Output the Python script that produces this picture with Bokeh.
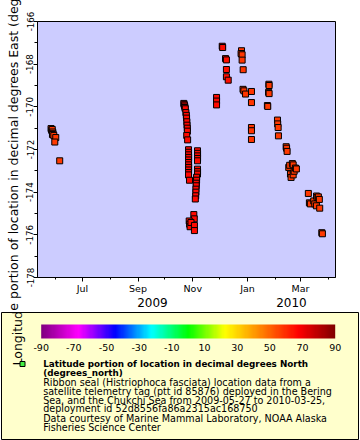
import math
import datetime as dt
from bokeh.plotting import figure
from bokeh.layouts import column
from bokeh.models import (ColumnDataSource, Range1d, FixedTicker, LinearAxis,
                          LinearColorMapper, ColorBar)
from bokeh.core.properties import value
from bokeh.transform import transform
from bokeh.embed import file_html
from bokeh.resources import INLINE

# ---------------- data ----------------
times = [
    "2009-05-27 00", "2009-05-27 16", "2009-05-28 08", "2009-05-28 20", "2009-05-29 06",
    "2009-05-28 14", "2009-05-30 02", "2009-06-01 06", "2009-05-31 04", "2009-06-05 16",
    "2009-10-22 00", "2009-10-22 12", "2009-10-22 22", "2009-10-23 06", "2009-10-23 16",
    "2009-10-24 08", "2009-10-24 20", "2009-10-25 02", "2009-10-25 10", "2009-10-25 14",
    "2009-10-25 22", "2009-10-26 00", "2009-10-25 06", "2009-10-26 06",
    "2009-10-27 06", "2009-10-27 08", "2009-10-27 06", "2009-10-27 10", "2009-10-27 06",
    "2009-10-27 08", "2009-10-27 06", "2009-10-27 10", "2009-10-27 06", "2009-10-27 08",
    "2009-10-27 06", "2009-10-28 08",
    "2009-11-06 06", "2009-11-06 08", "2009-11-06 06", "2009-11-06 08", "2009-11-06 06",
    "2009-11-06 06", "2009-11-06 08", "2009-11-06 06", "2009-11-05 06", "2009-11-05 06",
    "2009-11-04 22", "2009-11-04 20", "2009-11-04 12", "2009-11-04 12", "2009-11-04 06",
    "2009-11-03 20",
    "2009-11-02 04", "2009-11-02 16", "2009-10-28 00", "2009-10-28 12", "2009-10-29 00",
    "2009-10-30 00", "2009-11-02 20", "2009-11-02 20",
    "2009-11-27 12", "2009-11-27 12", "2009-11-27 12",
    "2009-12-03 20", "2009-12-04 08", "2009-12-07 12", "2009-12-08 12", "2009-12-08 12",
    "2009-12-08 12", "2009-12-10 12",
    "2009-12-25 08", "2009-12-24 20", "2009-12-26 00", "2009-12-26 00", "2009-12-27 04",
    "2009-12-27 00", "2009-12-28 00", "2009-12-29 20",
    "2010-01-05 10", "2010-01-05 10", "2010-01-05 10", "2010-01-05 10", "2010-01-05 10",
    "2010-01-24 20", "2010-01-25 02", "2010-01-24 12", "2010-01-25 02", "2010-01-23 04",
    "2010-01-23 14",
    "2010-02-03 10", "2010-02-03 16", "2010-02-04 04", "2010-02-04 12",
    "2010-02-13 02", "2010-02-13 14", "2010-02-14 04",
    "2010-02-16 00", "2010-02-17 00", "2010-02-17 22", "2010-02-18 14", "2010-02-20 00",
    "2010-02-20 22", "2010-02-20 22", "2010-02-22 00", "2010-02-23 10", "2010-02-24 12",
    "2010-03-09 20", "2010-03-11 00", "2010-03-12 02", "2010-03-15 20", "2010-03-17 00",
    "2010-03-18 20", "2010-03-19 00", "2010-03-19 14", "2010-03-21 00", "2010-03-22 02",
    "2010-03-22 12", "2010-03-24 20", "2010-03-25 12",
]
lons = [
    -171.02, -171.10, -171.06, -171.18, -171.26,
    -171.30, -171.34, -171.44, -171.65, -172.53,
    -169.84, -169.90, -169.96, -170.03, -170.09,
    -170.27, -170.40, -170.53, -170.70, -170.86,
    -171.00, -171.14, -171.34, -171.55,
    -172.01, -172.13, -172.25, -172.37, -172.49,
    -172.61, -172.72, -172.84, -172.96, -173.08,
    -173.19, -173.44,
    -172.06, -172.18, -172.30, -172.42, -172.53,
    -172.92, -173.04, -173.15, -173.30, -173.44,
    -173.58, -173.70, -173.86, -174.00, -174.17,
    -174.32,
    -175.05, -175.25, -175.35, -175.50, -175.62,
    -175.42, -175.56, -175.80,
    -169.56, -169.73, -169.91,
    -167.16, -167.22, -167.74, -167.80, -168.25,
    -168.59, -168.75,
    -167.37, -167.50, -167.56, -167.81, -168.26,
    -169.18, -169.25, -169.40,
    -169.28, -169.80, -170.97, -171.12, -171.53,
    -168.94, -169.00, -169.32, -169.38, -169.94,
    -169.98,
    -170.62, -170.80, -170.97, -171.36,
    -171.87, -171.94, -172.09,
    -172.84, -172.74, -173.15, -173.31, -172.66,
    -172.72, -173.19, -173.02, -172.87, -172.91,
    -174.06, -174.50, -174.55, -174.41, -174.55,
    -174.64, -174.18, -174.25, -174.22, -174.34,
    -174.75, -175.90, -175.95,
]
lats = (
    [57.0] * 10
    + [66.0] * 14
    + [66.5] * 12
    + [66.0] * 16
    + [66.0] * 8
    + [66.0] * 3
    + [65.0] * 7
    + [58.0] * 8
    + [58.0] * 5
    + [57.5] * 6
    + [57.5] * 4
    + [57.0] * 3
    + [57.0] * 10
    + [57.0] * 13
)

deploy_start = "2009-05-27 00"
deploy_end = "2010-03-25 00"

month_ticks = ["2009-07-01 00", "2009-09-01 00", "2009-11-01 00", "2010-01-01 00", "2010-03-01 00"]
month_labels = ["Jul", "Sep", "Nov", "Jan", "Mar"]
month_minor = ["2009-05-01 00", "2009-06-01 00", "2009-08-01 00", "2009-10-01 00",
               "2009-12-01 00", "2010-02-01 00", "2010-04-01 00"]
year_pos = ["2009-09-17 00", "2010-02-19 00"]
year_labels = ["2009", "2010"]
lon_ticks = [-178, -176, -174, -172, -170, -168, -166]
lon_labels = ["-178", "-176", "-174", "-172", "-170", "-168", "-166"]
lon_minor = [-177, -175, -173, -171, -169, -167]
cb_ticks = [-90, -70, -50, -30, -10, 10, 30, 50, 70, 90]
cb_labels = ["-90", "-70", "-50", "-30", "-10", "10", "30", "50", "70", "90"]

y_label = "Longitude portion of location in decimal degrees East (degrees_east)"
title_lines = ["Latitude portion of location in decimal degrees North",
               "(degrees_north)"]
body_lines = ["Ribbon seal (Histriophoca fasciata) location data from a",
              "satellite telemetry tag (ptt id 85876) deployed in the Bering",
              "Sea, and the Chukchi Sea from 2009-05-27 to 2010-03-25,",
              "deployment id 52d8556fa86a2315ac168750",
              "Data courtesy of Marine Mammal Laboratory, NOAA Alaska",
              "Fisheries Science Center"]


def ms(s):
    d = dt.datetime.strptime(s, "%Y-%m-%d %H").replace(tzinfo=dt.timezone.utc)
    return d.timestamp() * 1000.0


# ---------------- palette (rainbow, purple -> dark red) ----------------
nodes = [(128, 0, 128), (255, 0, 255), (0, 0, 255), (0, 255, 255), (0, 255, 0),
         (255, 255, 0), (255, 128, 0), (255, 0, 0), (128, 0, 0)]
palette = []
N = 256
for i in range(N):
    f = i / (N - 1) * (len(nodes) - 1)
    k = min(int(f), len(nodes) - 2)
    t = f - k
    c = [round(nodes[k][j] + (nodes[k + 1][j] - nodes[k][j]) * t) for j in range(3)]
    palette.append("#%02x%02x%02x" % tuple(c))
mapper = LinearColorMapper(palette=palette, low=-90, high=90)

FONT = "DejaVu Sans"
W = 360
H1 = 310                         # main plot height
FL, FR, FT, FB = 37, 335, 21, 277  # frame edges (page pixels)

t0, t1 = ms(deploy_start), ms(deploy_end)
pad = 0.05 * (t1 - t0)

p = figure(width=W, height=H1, x_axis_type="datetime", output_backend="svg",
           toolbar_location=None,
           x_range=Range1d(t0 - pad, t1 + pad), y_range=Range1d(-178, -166),
           min_border_left=FL, min_border_right=W - FR, min_border_top=FT,
           min_border_bottom=H1 - FB)
p.background_fill_color = "#ccccff"
p.border_fill_color = "white"
p.outline_line_color = "black"
p.outline_line_alpha = 1
p.grid.visible = False

src = ColumnDataSource(dict(t=[ms(s) for s in times], lon=lons, lat=lats))
p.scatter("t", "lon", source=src, marker="square", size=6,
          fill_color=transform("lat", mapper), line_color="black", line_width=1)

# y axis
ya = p.yaxis[0]
ya.ticker = FixedTicker(ticks=lon_ticks, minor_ticks=lon_minor)
ya.major_label_overrides = dict(zip(lon_ticks, lon_labels))
ya.major_label_orientation = "vertical"
ya.major_tick_out = 4
ya.major_tick_in = 0
ya.minor_tick_out = 3
ya.minor_tick_in = 0
ya.major_label_standoff = 0
ya.major_label_text_font = FONT
ya.major_label_text_font_size = "8.7px"
ya.major_label_text_color = "black"
ya.axis_label = y_label
ya.axis_label_text_font = FONT
ya.axis_label_text_font_size = "12.5px"
ya.axis_label_text_font_style = "normal"
ya.axis_label_text_color = "black"
ya.axis_label_standoff = 3

# x axis (months)
xa = p.xaxis[0]
xa.ticker = FixedTicker(ticks=[ms(s) for s in month_ticks],
                        minor_ticks=[ms(s) for s in month_minor])
xa.major_label_overrides = {ms(s): lab for s, lab in zip(month_ticks, month_labels)}
xa.major_tick_out = 4
xa.major_tick_in = 0
xa.minor_tick_out = 2
xa.minor_tick_in = 0
xa.major_label_standoff = 1
xa.major_label_text_font = FONT
xa.major_label_text_font_size = "9.5px"
xa.major_label_text_color = "black"

# second row: years
yr = LinearAxis(ticker=FixedTicker(ticks=[ms(s) for s in year_pos]),
                major_label_overrides={ms(s): lab for s, lab in zip(year_pos, year_labels)},
                axis_line_color=None, major_tick_line_color=None,
                minor_tick_line_color=None, major_tick_out=0, major_tick_in=0,
                minor_tick_out=0, minor_tick_in=0, major_label_standoff=1,
                major_label_text_font=FONT, major_label_text_font_size="12px",
                major_label_text_color="black")
p.add_layout(yr, "below")

# ---------------- legend panel (page pixel coordinates) ----------------
H2 = 130
LT, LB = H1 + 2, H1 + H2 - 1      # legend box top / bottom (page y)
lg = figure(width=W, height=H2, output_backend="svg", toolbar_location=None,
            x_range=Range1d(1, 358), y_range=Range1d(LB, LT),
            x_axis_location=None, y_axis_location=None,
            min_border_left=1, min_border_right=2, min_border_top=2, min_border_bottom=1)
lg.background_fill_color = "#ffffcc"
lg.border_fill_color = "white"
lg.outline_line_color = "black"
lg.outline_line_alpha = 1
lg.outline_line_width = 1
lg.grid.visible = False

# do not align the legend's frame with the plot's frame
for fig in (p, lg):
    if "frame_align" in fig.properties():
        fig.frame_align = False

cb = ColorBar(color_mapper=mapper, orientation="horizontal", width=294, height=14,
              location=(39.7, LB - 353), padding=0, margin=0,
              ticker=FixedTicker(ticks=cb_ticks),
              major_label_overrides=dict(zip(cb_ticks, cb_labels)),
              major_tick_line_color=None,
              minor_tick_line_color=None, bar_line_color=None,
              background_fill_alpha=0, border_line_color=None, label_standoff=5,
              major_label_text_font=FONT, major_label_text_font_size="9.5px",
              major_label_text_color="black")
lg.add_layout(cb, "center")

# continuation of the long y-axis label over the legend box
lg.text(x=[16.6], y=[365.0], text=[y_label.split(" ")[0]], angle=math.pi / 2,
        text_font=value(FONT), text_font_size="12.5px", text_align="left",
        text_baseline="alphabetic", text_color="black")

# legend marker and texts
lg.scatter(x=[22], y=[363.5], marker="square", size=5, fill_color="#44ee44",
           line_color="black", line_width=1)
title_y = [363.3, 372.0]
body_y = [381.6, 390.6, 399.6, 408.4, 417.6, 426.6]
lg.text(x=[42.7] * len(title_lines), y=title_y, text=title_lines,
        text_font=value(FONT), text_font_size="8.8px", text_font_style="bold",
        text_baseline="middle", text_align="left", text_color="black")
lg.text(x=[42.7] * len(body_lines), y=body_y, text=body_lines,
        text_font=value(FONT), text_font_size="9.6px",
        text_baseline="middle", text_align="left", text_color="black")

layout = column(p, lg, spacing=0)
open("out.html", "w").write(file_html(layout, INLINE))
